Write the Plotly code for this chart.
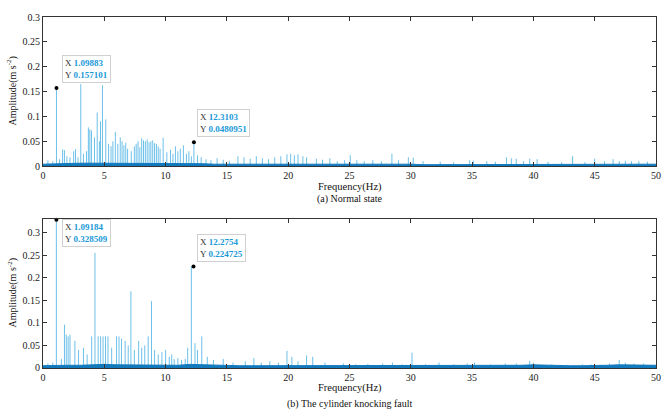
import plotly.graph_objects as go

# ---------------- data ----------------
x_ticks = [0, 5, 10, 15, 20, 25, 30, 35, 40, 45, 50]
y_ticks = [0, 0.05, 0.1, 0.15, 0.2, 0.25, 0.3]
y_tick_text = ["0", "0.05", "0.1", "0.15", "0.2", "0.25", "0.3"]

# (a) Normal state - spectral peaks
freq_a = [0.4, 0.8, 1.099, 1.35, 1.6, 1.75, 1.95, 2.2, 2.5, 2.65, 2.85, 3.08, 3.3, 3.55, 3.7, 3.82,
          3.95, 4.2, 4.42, 4.6, 4.69, 4.85, 5.12, 5.35, 5.55, 5.7, 5.9, 6.1, 6.3, 6.45, 6.6, 6.75,
          6.9, 7.2, 7.45, 7.6, 7.75, 7.9, 8.05, 8.2, 8.35, 8.5, 8.65, 8.8, 8.95, 9.1, 9.25, 9.4,
          9.55, 9.8, 10.1, 10.4, 10.6, 10.8, 11.0, 11.2, 11.45, 11.7, 11.9, 12.1, 12.31, 12.6,
          12.9, 13.3, 13.7, 14.2, 14.7, 15.2, 15.9, 16.4, 16.9, 17.4, 17.9, 18.4, 18.9, 19.4,
          19.9, 20.2, 20.5, 20.8, 21.2, 21.5, 22.3, 22.8, 23.4, 24.0, 24.6, 25.06, 25.6, 26.2,
          26.9, 27.6, 28.46, 29.0, 29.8, 30.2, 31.0, 32.4, 33.5, 34.8, 35.1, 36.2, 36.9, 37.8,
          38.2, 38.6, 39.2, 39.7, 40.3, 41.2, 42.3, 43.2, 44.2, 45.0, 45.8, 46.5, 47.0, 47.5,
          48.0, 48.6, 49.3]
amp_a = [0.012, 0.010, 0.157, 0.014, 0.034, 0.032, 0.02, 0.018, 0.03, 0.034, 0.018, 0.165, 0.025, 0.03, 0.078, 0.074,
         0.072, 0.058, 0.108, 0.05, 0.09, 0.163, 0.094, 0.045, 0.04, 0.05, 0.069, 0.045, 0.058, 0.05, 0.042, 0.047,
         0.035, 0.03, 0.04, 0.045, 0.05, 0.038, 0.056, 0.052, 0.05, 0.054, 0.048, 0.05, 0.052, 0.046, 0.045, 0.04,
         0.035, 0.057, 0.028, 0.033, 0.025, 0.04, 0.03, 0.035, 0.042, 0.025, 0.03, 0.02, 0.0481, 0.022,
         0.018, 0.014, 0.012, 0.016, 0.013, 0.011, 0.02, 0.018, 0.015, 0.02, 0.016, 0.014, 0.018, 0.02,
         0.024, 0.025, 0.022, 0.024, 0.02, 0.018, 0.015, 0.013, 0.016, 0.01, 0.012, 0.022, 0.012, 0.01,
         0.012, 0.01, 0.025, 0.012, 0.018, 0.017, 0.01, 0.009, 0.008, 0.012, 0.011, 0.01, 0.009, 0.018,
         0.016, 0.015, 0.01, 0.015, 0.014, 0.009, 0.008, 0.02, 0.008, 0.015, 0.01, 0.014, 0.01, 0.011,
         0.01, 0.01, 0.009]

# (b) Cylinder knocking fault - spectral peaks
freq_b = [0.4, 0.8, 1.09, 1.5, 1.75, 1.9, 2.05, 2.2, 2.6, 2.9, 3.3, 3.6, 3.97, 4.24, 4.5, 4.7,
          4.9, 5.1, 5.3, 5.6, 6.0, 6.2, 6.4, 6.7, 6.95, 7.17, 7.45, 7.8, 8.05, 8.3, 8.58, 8.85,
          9.1, 9.4, 9.7, 10.0, 10.3, 10.5, 10.7, 11.0, 11.3, 11.6, 11.8, 12.1, 12.4, 12.6, 12.95,
          13.4, 13.9, 14.7, 15.5, 16.5, 17.2, 17.8, 18.5, 19.2, 19.9, 20.3, 20.8, 21.5, 22.0, 23.0,
          24.5, 25.5, 26.5, 27.7, 28.5, 29.3, 30.1, 31.2, 32.3, 33.5, 34.6, 35.2, 36.5, 37.7, 38.6,
          39.7, 40.0, 41.5, 42.8, 44.0, 44.7, 45.5, 46.2, 47.0, 47.5, 48.2, 49.0]
amp_b = [0.01, 0.012, 0.3285, 0.02, 0.096, 0.074, 0.07, 0.074, 0.06, 0.04, 0.045, 0.03, 0.07, 0.255, 0.07, 0.07,
         0.07, 0.07, 0.07, 0.045, 0.07, 0.07, 0.065, 0.06, 0.05, 0.17, 0.04, 0.06, 0.045, 0.05, 0.07, 0.148,
         0.04, 0.03, 0.035, 0.04, 0.025, 0.03, 0.02, 0.022, 0.018, 0.02, 0.045, 0.2247, 0.055, 0.04, 0.07,
         0.025, 0.018, 0.02, 0.012, 0.015, 0.022, 0.012, 0.015, 0.012, 0.038, 0.025, 0.015, 0.028, 0.025, 0.012,
         0.01, 0.008, 0.009, 0.01, 0.012, 0.008, 0.034, 0.008, 0.012, 0.008, 0.01, 0.012, 0.008, 0.01, 0.01,
         0.016, 0.012, 0.008, 0.007, 0.008, 0.008, 0.007, 0.01, 0.018, 0.012, 0.01, 0.01]

# noise floor, sampled every 1 Hz (0..50)
floor_f = list(range(0, 51))
floor_a = [0.004, 0.005, 0.005, 0.006, 0.006, 0.006, 0.006, 0.006, 0.006, 0.006, 0.005, 0.005, 0.006,
           0.005, 0.004, 0.004, 0.004, 0.004, 0.004, 0.004, 0.005, 0.005, 0.004, 0.004, 0.004, 0.004,
           0.004, 0.004, 0.004, 0.004, 0.004, 0.003, 0.003, 0.003, 0.003, 0.003, 0.004, 0.004, 0.004,
           0.004, 0.004, 0.003, 0.003, 0.003, 0.003, 0.003, 0.004, 0.004, 0.004, 0.004, 0.004]
floor_b = [0.005, 0.006, 0.006, 0.006, 0.007, 0.008, 0.007, 0.007, 0.007, 0.007, 0.006, 0.006, 0.008,
           0.007, 0.006, 0.005, 0.005, 0.005, 0.005, 0.005, 0.006, 0.006, 0.005, 0.005, 0.005, 0.005,
           0.005, 0.005, 0.006, 0.005, 0.006, 0.005, 0.005, 0.005, 0.005, 0.006, 0.006, 0.006, 0.006,
           0.006, 0.007, 0.006, 0.005, 0.005, 0.005, 0.005, 0.006, 0.007, 0.007, 0.006, 0.006]

# data tips
tips_a = [(1.09883, 0.157101, "1.09883", "0.157101"), (12.3103, 0.0480951, "12.3103", "0.0480951")]
tips_b = [(1.09184, 0.328509, "1.09184", "0.328509"), (12.2754, 0.224725, "12.2754", "0.224725")]

# ---------------- figure ----------------
SPIKE = "#5cb9e6"
FLOOR = "#1279bd"
TIPBLUE = "#1b9ad8"
FONT = "Liberation Serif"


def stems(freqs, amps):
    xs, ys = [], []
    for f, a in zip(freqs, amps):
        xs += [f, f, None]
        ys += [0, a, None]
    return xs, ys


fig = go.Figure()
for fr, am, fl, xa, ya in [(freq_a, amp_a, floor_a, "x", "y"), (freq_b, amp_b, floor_b, "x2", "y2")]:
    sx, sy = stems(fr, am)
    fig.add_trace(go.Scatter(x=sx, y=sy, mode="lines", line=dict(color=SPIKE, width=0.9),
                             xaxis=xa, yaxis=ya, showlegend=False, hoverinfo="skip"))
    fig.add_trace(go.Scatter(x=floor_f, y=fl, mode="lines", line=dict(color=FLOOR, width=1),
                             fill="tozeroy", fillcolor=FLOOR,
                             xaxis=xa, yaxis=ya, showlegend=False, hoverinfo="skip"))

for tips, xa, ya in [(tips_a, "x", "y"), (tips_b, "x2", "y2")]:
    fig.add_trace(go.Scatter(x=[t[0] for t in tips], y=[t[1] for t in tips], mode="markers",
                             marker=dict(color="black", size=4), xaxis=xa, yaxis=ya,
                             showlegend=False, cliponaxis=False, hoverinfo="skip"))

axis_common = dict(range=[0, 50], tickvals=x_ticks, ticks="inside", ticklen=4, mirror="ticks",
                   showline=True, linecolor="#333333", linewidth=1, showgrid=False, zeroline=False,
                   automargin=False,
                   tickfont=dict(family=FONT, size=10, color="#222222"), tickcolor="#333333")
yaxis_common = dict(tickvals=y_ticks, ticktext=y_tick_text, ticks="inside", ticklen=4, mirror="ticks",
                    showline=True, linecolor="#333333", linewidth=1, showgrid=False, zeroline=False,
                    automargin=False,
                    tickfont=dict(family=FONT, size=10, color="#222222"), tickcolor="#333333")

fig.update_layout(
    width=662, height=412,
    margin=dict(l=43, r=6, t=17, b=44),
    paper_bgcolor="white", plot_bgcolor="white",
    xaxis=dict(domain=[0, 1], anchor="y", **axis_common),
    yaxis=dict(domain=[0.575, 1], anchor="x", range=[0, 0.3], **yaxis_common),
    xaxis2=dict(domain=[0, 1], anchor="y2", **axis_common),
    yaxis2=dict(domain=[0, 0.4246], anchor="x2", range=[0, 0.33], **yaxis_common),
    font=dict(family=FONT, color="#222222"),
)

ann = []
# axis titles / captions
ann.append(dict(text="Frequency(Hz)", x=0.5, y=0.575, xref="paper", yref="paper", yshift=-21,
                showarrow=False, yanchor="middle", font=dict(family=FONT, size=10.5, color="#111111")))
ann.append(dict(text="(a) Normal state", x=0.5, y=0.575, xref="paper", yref="paper", yshift=-33,
                showarrow=False, yanchor="middle", font=dict(family=FONT, size=10, color="#111111")))
ann.append(dict(text="Frequency(Hz)", x=0.5, y=0, xref="paper", yref="paper", yshift=-20,
                showarrow=False, yanchor="middle", font=dict(family=FONT, size=10.5, color="#111111")))
ann.append(dict(text="(b) The cylinder knocking fault", x=0.5, y=0, xref="paper", yref="paper", yshift=-36,
                showarrow=False, yanchor="middle", font=dict(family=FONT, size=10, color="#111111")))
for yc in [0.7875, 0.2123]:
    ann.append(dict(text="Amplitude(m s<sup>-2</sup>)", x=0, y=yc, xref="paper", yref="paper",
                    xshift=-31, textangle=-90, showarrow=False, xanchor="center", yanchor="middle",
                    font=dict(family=FONT, size=10, color="#111111")))

# data tip boxes
for tips, xr, yr, offs in [(tips_a, "x", "y", [(0.45, 0.011), (0.25, 0.01)]),
                            (tips_b, "x2", "y2", [(0.45, -0.06), (0.25, 0.009)])]:
    for (fx, fy, sx_, sy_), (dx, dy) in zip(tips, offs):
        txt = (f"<span style='color:#333'>X</span> <b><span style='color:{TIPBLUE}'>{sx_}</span></b><br>"
               f"<span style='color:#333'>Y</span> <b><span style='color:{TIPBLUE}'>{sy_}</span></b>")
        ann.append(dict(text=txt, x=fx + dx, y=fy + dy, xref=xr, yref=yr, showarrow=False,
                        xanchor="left", yanchor="bottom", align="left",
                        bgcolor="white", bordercolor="#d0d0d0", borderwidth=1, borderpad=2,
                        font=dict(family=FONT, size=9)))

fig.update_layout(annotations=ann)
fig.write_html("out.html", config={"displayModeBar": False},
               post_script="document.body.style.margin='0';document.body.style.padding='0';"
                           "document.body.style.overflow='hidden';")
